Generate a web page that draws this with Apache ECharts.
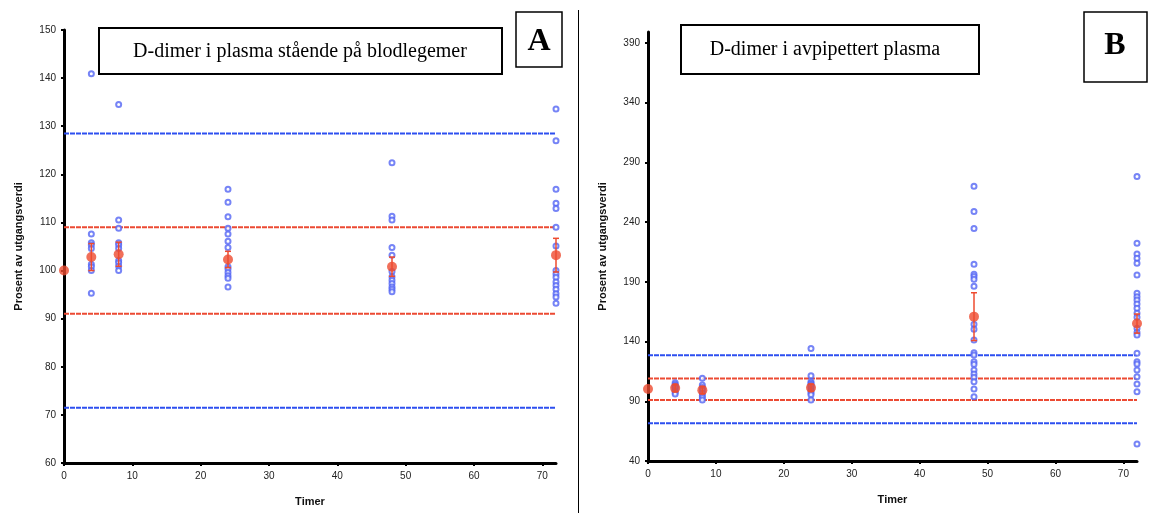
<!DOCTYPE html>
<html>
<head>
<meta charset="utf-8">
<script src="https://cdn.jsdelivr.net/npm/echarts@6/dist/echarts.min.js"></script>
<style>
    html, body {margin: 0; padding: 0; background: #fff;}
    #chart {width: 1150px; height: 513px;}
</style>
</head>
<body>
<div id="chart"></div>
<script>
// tidspunkt (timer)
let hours = [0, 4, 8, 24, 48, 72]
let xTicks = [0, 10, 20, 30, 40, 50, 60, 70]

// Panel A - plasma stående på blodlegemer, enkeltverdier
let a4 = [140.9, 107.6, 105.8, 105.3, 104.6, 101.3, 100.8, 100.0, 95.3]
let a8 = [134.5, 110.5, 108.8, 105.8, 105.3, 104.6, 102.1, 101.6, 100.9, 100.0]
let a24 = [116.9, 114.2, 111.2, 108.8, 107.6, 106.1, 104.8, 100.8, 100.3, 99.6, 98.9, 98.4, 96.6]
let a48 = [122.4, 111.3, 110.5, 104.8, 103.2, 99.8, 98.7, 98.0, 97.3, 96.6, 96.1, 95.6]
let a72 = [133.6, 127.0, 116.9, 114.0, 112.9, 109.0, 105.1, 100.0, 99.3, 98.6, 97.6, 96.9, 96.1, 95.2, 94.5, 93.2]
let aMean = [100, 102.8, 103.4, 102.3, 100.8, 103.2]
let aErr = [0, 2.8, 2.5, 1.7, 2.0, 3.5]
let yTicksA = [60, 70, 80, 90, 100, 110, 120, 130, 140, 150]

// Panel B - avpipettert plasma, enkeltverdier
let b4 = [105.5, 104.0, 103.0, 102.0, 101.0, 99.0, 97.5, 96.0]
let b8 = [109.2, 103.6, 101.6, 99.4, 96.6, 94.6, 92.9, 91.0]
let b24 = [134.1, 111.4, 106.3, 105.0, 104.0, 103.0, 102.0, 100.0, 98.5, 97.0, 95.5, 91.0]
let b48 = [270.0, 248.7, 234.5, 204.7, 196.3, 194.3, 192.1, 186.2, 154.4, 150.2, 141.3, 130.6, 128.7, 123.1, 120.9, 116.1, 112.8, 110.0, 106.3, 100.2, 93.8]
let b72 = [278.0, 222.2, 213.3, 209.7, 205.5, 195.7, 180.4, 177.5, 174.8, 171.4, 167.8, 163.6, 160.3, 151.0, 147.6, 145.4, 130.1, 123.1, 121.2, 116.1, 110.6, 104.4, 97.9, 54.2]
let bMean = [100.2, 101.0, 99.3, 101.3, 160.8, 155.0]
let bErr = [0, 3.0, 3.0, 3.0, 20.0, 8.0]
let yTicksB = [40, 90, 140, 190, 240, 290, 340, 390]

// referansegrenser
let redLimits = [91, 109]
let blueLimits = [71.5, 128.5]

let blue = '#5465f4', red = '#ee4b2f', lineBlue = '#2d4ff0', lineRed = '#ec4a33'

function $each(arr, fn) {
    for (let i = 0; i < arr.length; i++) fn(arr[i], i)
}

function pairs(list) {
    let out = []
    $each(list, function (item) {
        $each(item[1], function (v) {
            out.push([item[0], v])
        })
    })
    return out
}

function meanData(means) {
    let out = []
    $each(hours, function (h, i) { out.push([h, means[i]]) })
    return out
}

function errData(means, errs) {
    let out = []
    $each(hours, function (h, i) {
        if (errs[i] > 0) out.push([h, means[i] - errs[i], means[i] + errs[i]])
    })
    return out
}

function refLine(v, color, idx) {
    return {
        type: 'line', xAxisIndex: idx, yAxisIndex: idx,
        data: [[0, v], [72, v]], symbol: 'none', silent: true,
        lineStyle: {color: color, width: 2, type: [5, 1]},
        z: 1
    }
}

function renderErr(params, api) {
    let x = api.value(0)
    let lo = api.coord([x, api.value(1)])
    let hi = api.coord([x, api.value(2)])
    let style = {stroke: red, lineWidth: 1.5}
    return {
        type: 'group',
        children: [
            {type: 'line', shape: {x1: lo[0], y1: lo[1], x2: hi[0], y2: hi[1]}, style: style},
            {type: 'line', shape: {x1: hi[0] - 3, y1: hi[1], x2: hi[0] + 3, y2: hi[1]}, style: style},
            {type: 'line', shape: {x1: lo[0] - 3, y1: lo[1], x2: lo[0] + 3, y2: lo[1]}, style: style}
        ]
    }
}

function xAxisCfg(idx) {
    return {
        type: 'value', gridIndex: idx, min: 0, max: 72,
        name: 'Timer', nameLocation: 'middle', nameGap: 33,
        nameTextStyle: {fontFamily: 'Liberation Sans', fontWeight: 'bold', fontSize: 11, color: '#111'},
        axisLine: {lineStyle: {color: '#000', width: 3}},
        axisTick: {length: 3, lineStyle: {color: '#000', width: 2}, customValues: xTicks},
        axisLabel: {fontFamily: 'Liberation Sans', fontSize: 10, color: '#222', margin: 8, customValues: xTicks},
        splitLine: {show: false}
    }
}

function yAxisCfg(idx, min, max, ticks, gap) {
    return {
        type: 'value', gridIndex: idx, min: min, max: max,
        name: 'Prosent av utgangsverdi', nameLocation: 'middle', nameGap: gap,
        nameTextStyle: {fontFamily: 'Liberation Sans', fontWeight: 'bold', fontSize: 11, color: '#111'},
        axisLine: {show: true, lineStyle: {color: '#000', width: 3}},
        axisTick: {show: true, length: 3, lineStyle: {color: '#000', width: 2}, customValues: ticks},
        axisLabel: {fontFamily: 'Liberation Sans', fontSize: 10, color: '#222', margin: 8, customValues: ticks},
        splitLine: {show: false}
    }
}

let seriesList = []
// Panel A
seriesList.push(refLine(blueLimits[0], lineBlue, 0), refLine(blueLimits[1], lineBlue, 0),
    refLine(redLimits[0], lineRed, 0), refLine(redLimits[1], lineRed, 0))
seriesList.push({
    type: 'scatter', xAxisIndex: 0, yAxisIndex: 0, symbol: 'emptyCircle', symbolSize: 5,
    itemStyle: {color: blue, borderColor: blue, borderWidth: 1.3},
    data: pairs([[4, a4], [8, a8], [24, a24], [48, a48], [72, a72]]), z: 3
})
seriesList.push({type: 'custom', xAxisIndex: 0, yAxisIndex: 0, renderItem: renderErr, data: errData(aMean, aErr), z: 4})
seriesList.push({
    type: 'scatter', xAxisIndex: 0, yAxisIndex: 0, symbol: 'circle', symbolSize: 10,
    itemStyle: {color: red}, data: meanData(aMean), z: 5
})
// Panel B
seriesList.push(refLine(blueLimits[0], lineBlue, 1), refLine(blueLimits[1], lineBlue, 1),
    refLine(redLimits[0], lineRed, 1), refLine(redLimits[1], lineRed, 1))
seriesList.push({
    type: 'scatter', xAxisIndex: 1, yAxisIndex: 1, symbol: 'emptyCircle', symbolSize: 5,
    itemStyle: {color: blue, borderColor: blue, borderWidth: 1.3},
    data: pairs([[4, b4], [8, b8], [24, b24], [48, b48], [72, b72]]), z: 3
})
seriesList.push({type: 'custom', xAxisIndex: 1, yAxisIndex: 1, renderItem: renderErr, data: errData(bMean, bErr), z: 4})
seriesList.push({
    type: 'scatter', xAxisIndex: 1, yAxisIndex: 1, symbol: 'circle', symbolSize: 10,
    itemStyle: {color: red}, data: meanData(bMean), z: 5
})

let chart = echarts.init(document.getElementById('chart'))
let option = {
    animation: false,
    backgroundColor: '#fff',
    grid: [
        {left: 64, top: 30, width: 492, height: 433},
        {left: 648, top: 32, width: 489, height: 429}
    ],
    xAxis: [xAxisCfg(0), xAxisCfg(1)],
    yAxis: [yAxisCfg(0, 60, 150, yTicksA, 40), yAxisCfg(1, 40, 399, yTicksB, 40)],
    series: seriesList,
    graphic: [
        // skillelinje
        {type: 'line', shape: {x1: 578.5, y1: 10, x2: 578.5, y2: 513}, style: {stroke: '#000', lineWidth: 1}},
        // tittelbokser
        {type: 'rect', shape: {x: 99, y: 28, width: 403, height: 46}, style: {fill: '#fff', stroke: '#000', lineWidth: 2}, z: 10},
        {type: 'text', x: 300, y: 52, style: {text: 'D-dimer i plasma stående på blodlegemer', font: '20px "Liberation Serif"', fill: '#000', align: 'center', verticalAlign: 'middle'}, z: 11},
        {type: 'rect', shape: {x: 516, y: 12, width: 46, height: 55}, style: {fill: '#fff', stroke: '#000', lineWidth: 1.5}, z: 10},
        {type: 'text', x: 539, y: 42, style: {text: 'A', font: 'bold 32px "Liberation Serif"', fill: '#000', align: 'center', verticalAlign: 'middle'}, z: 11},
        {type: 'rect', shape: {x: 681, y: 25, width: 298, height: 49}, style: {fill: '#fff', stroke: '#000', lineWidth: 2}, z: 10},
        {type: 'text', x: 825, y: 50, style: {text: 'D-dimer i avpipettert plasma', font: '20px "Liberation Serif"', fill: '#000', align: 'center', verticalAlign: 'middle'}, z: 11},
        {type: 'rect', shape: {x: 1084, y: 12, width: 63, height: 70}, style: {fill: '#fff', stroke: '#000', lineWidth: 1.5}, z: 10},
        {type: 'text', x: 1115, y: 46, style: {text: 'B', font: 'bold 32px "Liberation Serif"', fill: '#000', align: 'center', verticalAlign: 'middle'}, z: 11}
    ]
}
chart.setOption(option)
</script>
</body>
</html>
